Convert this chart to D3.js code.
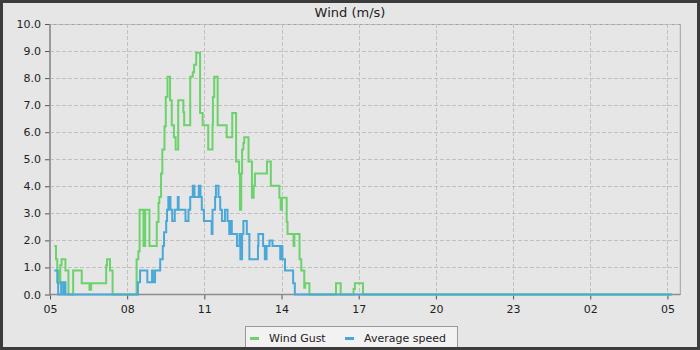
<!DOCTYPE html>
<html><head><meta charset="utf-8">
<script src="https://cdn.jsdelivr.net/npm/d3@7"></script>
<style>html,body{margin:0;padding:0;background:#e6e6e6}</style>
</head><body><svg id="c" width="700" height="350"></svg>
<script>
const title = "Wind (m/s)";
const seriesNames = ["Wind Gust", "Average speed"];
// time in minutes since 00:00 of the first day
const gustTimes = [310,314,317,320,324,327,336,343,354,374,392,396,431,433,440,446,
  502,506,509,518,522,532,549,553,555,559,562,567,570,574,580,584,589,593,599,611,613,
  627,633,636,641,650,656,669,679,680,683,691,712,725,734,741,743,746,748,751,753,763,
  771,775,778,806,815,835,838,841,852,854,868,870,882,886,893,895,905,967,978,1008,1011,1030,1750];
const gustValues = [1.79,1.3,0.89,0.42,1.08,1.3,0.89,0,0.89,0.42,0.18,0.42,1.08,1.3,0.89,0,
  1.3,1.6,3.13,1.79,3.13,1.79,2.68,3.38,3.6,4.47,5.36,6.22,7.3,8.05,7.18,6.26,5.81,5.36,7.18,6.74,6.26,
  8.05,8.22,8.49,8.94,6.71,6.26,5.36,6.26,7.3,8.05,6.26,5.81,6.71,4.92,4.47,3.13,4.47,5.36,5.6,5.81,4.92,
  3.58,4.02,4.47,4.92,4.02,3.58,3.13,3.58,2.68,2.24,1.79,2.24,1.3,0.89,0.25,0.42,0,0.42,0,0.2,0.42,0,0];
const avgTimes = [310,317,319,326,331,333,336,505,510,527,538,540,545,557,563,566,571,573,576,578,580,581,585,
  591,598,600,616,623,627,633,637,647,651,654,659,677,679,685,687,693,697,701,708,714,718,721,724,736,742,744,
  748,751,759,765,785,786,797,801,805,812,819,837,840,842,848,867,871,1750];
const avgValues = [0.89,0.45,0,0.45,0,0.45,0,0.45,0.89,0.45,0.89,0.45,0.89,1.3,1.79,2.3,2.72,3.13,3.6,3.13,3.6,3.13,2.72,
  3.13,3.6,3.13,2.72,3.13,3.6,4.02,3.6,4.02,3.6,3.13,2.72,2.24,3.13,3.6,4.02,3.6,3.13,2.72,3.13,2.72,2.24,2.72,2.24,1.79,2.24,1.3,
  2.24,2.72,2.24,1.3,1.79,2.24,1.79,1.3,1.79,2.0,1.79,1.3,1.79,1.3,0.89,0.42,0,0];
const yTickValues = [0,1,2,3,4,5,6,7,8,9,10];
const xMajorTicks = [300,480,660,840,1020,1200,1380,1560,1740];
const xTickLabels = ["05","08","11","14","17","20","23","02","05"];

const W = 700, H = 350;
const M = {left: 50, right: 680.3, top: 24, bottom: 294.5};
const svg = d3.select("#c");
const font = "DejaVu Sans, sans-serif";

svg.append("rect").attr("x",0).attr("y",0).attr("width",W).attr("height",H).attr("fill","#e6e6e6");

const x = d3.scaleLinear().domain([300, 1770]).range([M.left, M.right]);
const y = d3.scaleLinear().domain([0, 10]).range([M.bottom, M.top]);

// plot border
svg.append("rect").attr("x",M.left).attr("y",M.top+0.5).attr("width",M.right-M.left).attr("height",M.bottom-M.top-0.5)
  .attr("fill","#e6e6e6").attr("stroke","#a0a0a0").attr("stroke-width",1);

// grid
const grid = svg.append("g").attr("stroke","#c0c0c0").attr("stroke-width",1).attr("stroke-dasharray","4,2");
grid.selectAll("line.h").data(yTickValues.filter(v=>v>0)).join("line")
  .attr("x1",M.left).attr("x2",M.right).attr("y1",d=>Math.round(y(d))+0.5).attr("y2",d=>Math.round(y(d))+0.5);
grid.selectAll("line.v").data(xMajorTicks.filter(v=>v>300)).join("line")
  .attr("y1",M.top).attr("y2",M.bottom).attr("x1",d=>Math.round(x(d))+0.5).attr("x2",d=>Math.round(x(d))+0.5);

// axes
const minorX = d3.range(300, 1770, 60);
const gx = svg.append("g").attr("transform",`translate(0,${M.bottom})`);
gx.call(d3.axisBottom(x).tickValues(minorX).tickSize(4).tickFormat(""));
gx.call(d3.axisBottom(x).tickValues(xMajorTicks).tickSize(5).tickPadding(6)
  .tickFormat((d,i)=>xTickLabels[i]));
gx.selectAll(".domain").remove();
gx.selectAll("line").attr("stroke","#555");
gx.selectAll("text").attr("font-family",font).attr("font-size",11).attr("fill","#222");

const gy = svg.append("g").attr("transform",`translate(${M.left},0)`);
gy.call(d3.axisLeft(y).tickValues(d3.range(0.5,10,1)).tickSize(3).tickFormat(""));
gy.call(d3.axisLeft(y).tickValues(yTickValues).tickSize(5).tickPadding(4).tickFormat(d3.format(".1f")));
gy.selectAll(".domain").remove();
gy.selectAll("line").attr("stroke","#555");
gy.selectAll("text").attr("font-family",font).attr("font-size",11).attr("fill","#222");

svg.append("line").attr("x1",M.left).attr("x2",M.left).attr("y1",M.top).attr("y2",M.bottom+1)
  .attr("stroke","#8c8c8c").attr("stroke-width",1.5);
svg.append("line").attr("x1",M.left).attr("x2",M.right).attr("y1",M.bottom).attr("y2",M.bottom)
  .attr("stroke","#8c8c8c").attr("stroke-width",1.5);

// series
const line = d3.line().x(d=>x(d[0])).y(d=>y(d[1])).curve(d3.curveStepAfter);
const gust = gustTimes.map((t,i)=>[t,gustValues[i]]);
const avg = avgTimes.map((t,i)=>[t,avgValues[i]]);
svg.append("path").attr("d",line(gust)).attr("fill","none").attr("stroke","#6cd26c").attr("stroke-width",2);
svg.append("path").attr("d",line(avg)).attr("fill","none").attr("stroke","#4aa8d8").attr("stroke-width",2);

// title
svg.append("text").attr("x",350).attr("y",17).attr("text-anchor","middle").attr("font-family",font)
  .attr("font-size",13).attr("fill","#222").text(title);

// legend
const lg = svg.append("g");
lg.append("rect").attr("x",245.5).attr("y",326.5).attr("width",212).attr("height",24)
  .attr("fill","#f2f2f2").attr("stroke","#999");
const colors = ["#6cd26c","#4aa8d8"];
const sx = [250, 345], tx = [269, 364];
seriesNames.forEach((n,i)=>{
  lg.append("line").attr("x1",sx[i]).attr("x2",sx[i]+9).attr("y1",338.5).attr("y2",338.5)
    .attr("stroke",colors[i]).attr("stroke-width",3);
  lg.append("text").attr("x",tx[i]).attr("y",342).attr("font-family",font).attr("font-size",11)
    .attr("fill","#222").text(n);
});

// outer frame
svg.append("rect").attr("x",1.5).attr("y",1.5).attr("width",W-3).attr("height",H-3)
  .attr("fill","none").attr("stroke","#3c3c3c").attr("stroke-width",3);
</script></body></html>
